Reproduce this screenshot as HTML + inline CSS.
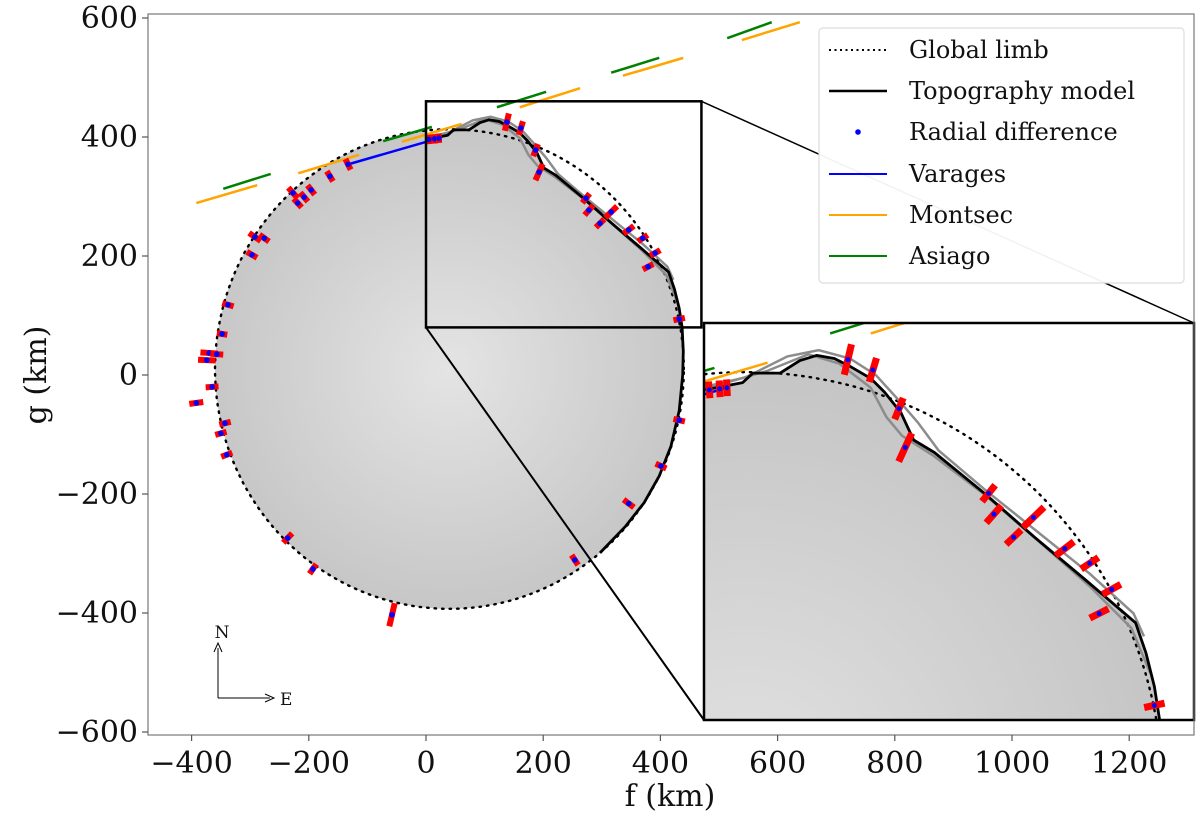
<!DOCTYPE html>
<html><head><meta charset="utf-8"><style>
html,body{margin:0;padding:0;background:#fff;width:1200px;height:820px;overflow:hidden}
svg{display:block}
text{font-family:"DejaVu Serif","Liberation Serif",serif;fill:#111}
</style></head><body>
<svg id="c" width="1200" height="820" viewBox="0 0 1200 820">
<defs>
<clipPath id="clipMain"><rect x="148" y="14" width="1046" height="721"/></clipPath>
<clipPath id="clipInset"><rect x="704" y="323" width="490" height="397"/></clipPath>
<radialGradient id="gMain" gradientUnits="userSpaceOnUse" cx="449" cy="369" r="245">
<stop offset="0" stop-color="#e4e4e4"/><stop offset="1" stop-color="#c6c6c6"/></radialGradient>
<radialGradient id="gInset" gradientUnits="userSpaceOnUse" cx="746" cy="793" r="440">
<stop offset="0" stop-color="#e2e2e2"/><stop offset="1" stop-color="#c4c4c4"/></radialGradient>
</defs>
<g id="mainPanel" clip-path="url(#clipMain)"></g>
<g id="links"></g>
<rect x="704" y="323" width="490" height="397" fill="#fff"/>
<g id="insetPanel" clip-path="url(#clipInset)"></g>
<rect x="704" y="323" width="490" height="397" fill="none" stroke="#000" stroke-width="2.5"/>
<rect x="148" y="14" width="1046" height="721" fill="none" stroke="#777" stroke-width="1.2"/>
<g id="axes"></g>
<g>
<rect x="819" y="28" width="365" height="255" rx="4" fill="#fff" fill-opacity="0.95" stroke="#ddd" stroke-width="1.2"/>
<g><line x1="829" y1="50" x2="887" y2="50" stroke="#000" stroke-width="2" stroke-dasharray="2,3.5"/><text x="909" y="58" font-size="24">Global limb</text></g>
<g><line x1="829" y1="91" x2="887" y2="91" stroke="#000" stroke-width="2.5"/><text x="909" y="99" font-size="24">Topography model</text></g>
<g><circle cx="858" cy="132" r="2.8" fill="#00f"/><text x="909" y="140" font-size="24">Radial difference</text></g>
<g><line x1="829" y1="174" x2="887" y2="174" stroke="#00f" stroke-width="2"/><text x="909" y="182" font-size="24">Varages</text></g>
<g><line x1="829" y1="215" x2="887" y2="215" stroke="orange" stroke-width="2"/><text x="909" y="223" font-size="24">Montsec</text></g>
<g><line x1="829" y1="256" x2="887" y2="256" stroke="green" stroke-width="2"/><text x="909" y="264" font-size="24">Asiago</text></g>
</g>
<g>
<line x1="218" y1="698" x2="218" y2="648" stroke="#000" stroke-width="1"/><path d="M214,652 L218,643 L222,652" fill="none" stroke="#000" stroke-width="1"/>
<line x1="218" y1="698" x2="270" y2="698" stroke="#000" stroke-width="1"/><path d="M265,694 L274,698 L265,702" fill="none" stroke="#000" stroke-width="1"/>
<text x="222" y="638" font-size="17" text-anchor="middle">N</text>
<text x="280" y="705" font-size="17">E</text>
</g>
<text x="670" y="806" font-size="30" text-anchor="middle">f (km)</text>
<text x="0" y="0" font-size="30" text-anchor="middle" transform="translate(46,375) rotate(-90)">g (km)</text>
</svg>
<script>
// ---- data (km) ----
const limbCenter = [40, 10];
const limbRadii = [400, 403];
const topoF = [1,37,47,73,92,108,125,141,160,173,189,201,221,269,317,366,414,424,432,437,439,438,432,418,398,372,340,297];
const topoG = [396,403,412,412,424,429,426,418,407,394,374,348,336,297,255,214,173,144,112,80,40,0,-60,-120,-170,-215,-255,-299];
const grayAF = [1,40,80,110,140,165,185,205,225,270,320,370,412,422];
const grayAG = [399,408,428,434,426,410,388,365,338,300,260,220,182,160];
const grayBF = [1,60,100,130,160,175,190,220,270,320,370,410,428];
const grayBG = [397,414,430,421,398,370,352,333,295,252,208,168,125];
const obsF = [-133,-164,-196,-208,-227,-219,-292,-276,-297,-338,-348,5,15,22,138,162,187,193,273,278,297,316,346,370,391,379,432,-370,-374,-357,-365,-392,-343,-350,-340,-236,-193,-58,254,346,401,432];
const obsG = [354,334,311,299,306,289,232,230,202,118,69,396,397,398,425,415,378,341,297,277,255,274,244,230,205,182,94,37,25,35,-20,-47,-81,-98,-134,-274,-326,-403,-311,-216,-153,-76];
const obsHalf = [10,10,10,10,12,10,12,10,10,10,9,8,8,8,15,12,11,15,10,11,10,14,11,10,10,10,10,15,15,11,11,12,10,10,10,11,10,20,10,11,10,10];
const varagesF = [-133, 22];
const varagesG = [354, 398];
const montsecF1 = [-392,-218,-41,160,336,539];
const montsecG1 = [289,339,392,450,503,563];
const montsecF2 = [-288,-114,61,263,439,638];
const montsecG2 = [319,370,422,482,533,593];
const asiagoF1 = [-346,-73,121,316,514];
const asiagoG1 = [313,393,450,508,566];
const asiagoF2 = [-265,10,205,398,590];
const asiagoG2 = [338,417,476,533,593];
const xTicks = [-400,-200,0,200,400,600,800,1000,1200];
const yTicks = [600,400,200,0,-200,-400,-600];
const zoomBox = [0, 470, 80, 460];

const NS = 'http://www.w3.org/2000/svg';
function mk(tag, attrs, parent){const e=document.createElementNS(NS,tag);for(const k in attrs)e.setAttribute(k,attrs[k]);parent.appendChild(e);return e;}
const mx = f => 426 + f*0.586;
const my = g => 375 - g*0.595;
const ix = f => 704 + (f-zoomBox[0])*(490/(zoomBox[1]-zoomBox[0]));
const iy = g => 720 - (g-zoomBox[2])*(397/(zoomBox[3]-zoomBox[2]));

function ellipsePt(a){return [limbCenter[0]+limbRadii[0]*Math.cos(a), limbCenter[1]+limbRadii[1]*Math.sin(a)];}
function ang(f,g){return Math.atan2((g-limbCenter[1])/limbRadii[1], (f-limbCenter[0])/limbRadii[0]);}

function drawPanel(p, sx, sy, grad, barW, dotR){
  const pts = (F,G)=>F.map((f,i)=>sx(f).toFixed(1)+','+sy(G[i]).toFixed(1)).join(' ');
  let a0 = ang(topoF[topoF.length-1], topoG[topoG.length-1]);
  let a1 = ang(topoF[0], topoG[0]); if (a1 < a0) a1 += 2*Math.PI;
  let d = 'M' + topoF.map((f,i)=>sx(f).toFixed(1)+','+sy(topoG[i]).toFixed(1)).join(' L');
  for (let k=1;k<=120;k++){const a=a0-(2*Math.PI-(a1-a0))*k/120;const q=ellipsePt(a);d+=' L'+sx(q[0]).toFixed(1)+','+sy(q[1]).toFixed(1);}
  const body = mk('path',{d:d+'Z',fill:'url(#'+grad+')'},p);
  
  
  let ld='';
  for(let k=0;k<=240;k++){const q=ellipsePt(2*Math.PI*k/240);ld+=(k?' L':'M')+sx(q[0]).toFixed(1)+','+sy(q[1]).toFixed(1);}
  const limb = mk('path',{d:ld,fill:'none',stroke:'#000','stroke-width':2.4,'stroke-dasharray':'1.5,6','stroke-linecap':'round'},p);
  
  
  [[grayAF,grayAG],[grayBF,grayBG]].forEach((s,i)=>{
    const gl = mk('polyline',{points:pts(s[0],s[1]),fill:'none',stroke:'#8c8c8c','stroke-width':2.5},p);
    
    
  });
  function segs(F1,G1,F2,G2,col,name){
    F1.forEach((f,i)=>{
      const l = mk('line',{x1:sx(f),y1:sy(G1[i]),x2:sx(F2[i]),y2:sy(G2[i]),stroke:col,'stroke-width':2.5},p);
      
      
    });
  }
  segs(montsecF1,montsecG1,montsecF2,montsecG2,'orange','montsec');
  segs(asiagoF1,asiagoG1,asiagoF2,asiagoG2,'green','asiago');
  const vl = mk('line',{x1:sx(varagesF[0]),y1:sy(varagesG[0]),x2:sx(varagesF[1]),y2:sy(varagesG[1]),stroke:'#00f','stroke-width':2.5},p);
  
  
  const tl = mk('polyline',{points:pts(topoF,topoG),fill:'none',stroke:'#000','stroke-width':2.8,'stroke-linejoin':'round'},p);
  
  
  obsF.forEach((f,i)=>{
    const g=obsG[i]; const a=Math.atan2(g-limbCenter[1], f-limbCenter[0]);
    const h=obsHalf[i], c=Math.cos(a), s=Math.sin(a);
    const bar = mk('line',{x1:sx(f-h*c),y1:sy(g-h*s),x2:sx(f+h*c),y2:sy(g+h*s),stroke:'#f00','stroke-width':barW},p);
    
    
    const dot = mk('circle',{cx:sx(f),cy:sy(g),r:dotR,fill:'#00f'},p);
    
    
  });
}
drawPanel(document.getElementById('mainPanel'), mx, my, 'gMain', 6, 2.8);
drawPanel(document.getElementById('insetPanel'), ix, iy, 'gInset', 7, 2.5);

const L = document.getElementById('links');
const zb = mk('rect',{x:mx(zoomBox[0]),y:my(zoomBox[3]),width:mx(zoomBox[1])-mx(zoomBox[0]),height:my(zoomBox[2])-my(zoomBox[3]),fill:'none',stroke:'#000','stroke-width':2.5},L);


const c1 = mk('line',{x1:mx(zoomBox[0]),y1:my(zoomBox[2]),x2:704,y2:720,stroke:'#000','stroke-width':2},L);


const c2 = mk('line',{x1:mx(zoomBox[1]),y1:my(zoomBox[3]),x2:1194,y2:323,stroke:'#000','stroke-width':1.5},L);



const A = document.getElementById('axes');
xTicks.forEach(v=>{
  const t = mk('line',{x1:mx(v),y1:735,x2:mx(v),y2:741,stroke:'#555','stroke-width':1.2},A);
  
  
  const tx = mk('text',{x:mx(v),y:773,'font-size':30,'text-anchor':'middle'},A);
  tx.textContent = (v<0?'\u2212'+(-v):String(v));
  
  
});
yTicks.forEach(v=>{
  const t = mk('line',{x1:142,y1:my(v),x2:148,y2:my(v),stroke:'#555','stroke-width':1.2},A);
  
  
  const tx = mk('text',{x:138,y:my(v)+10,'font-size':30,'text-anchor':'end'},A);
  tx.textContent = (v<0?'\u2212'+(-v):String(v));
  
  
});
</script>
</body></html>
